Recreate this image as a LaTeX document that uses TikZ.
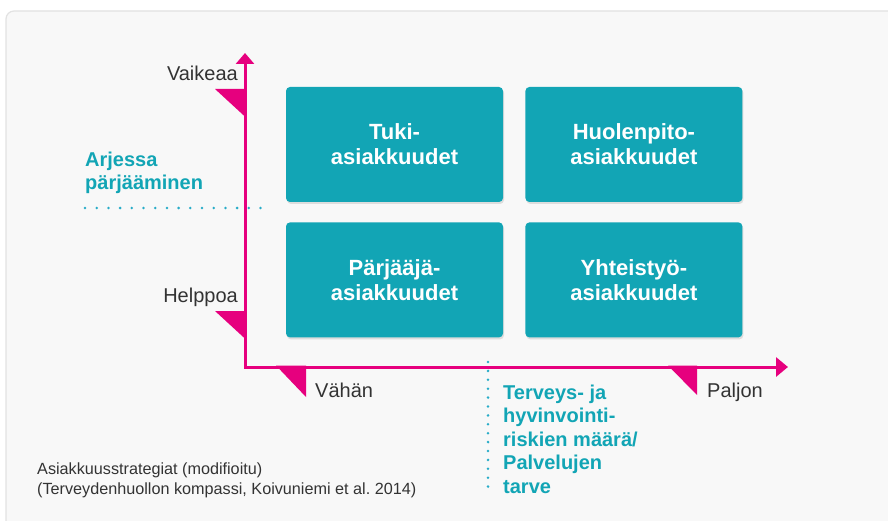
\documentclass[tikz,border=0pt]{standalone}
\usepackage{fontspec}
\setmainfont{Liberation Sans}
\usetikzlibrary{shadows,arrows.meta,positioning}
\definecolor{askteal}{RGB}{18, 165, 181}
\definecolor{askdots}{RGB}{40, 172, 200}
\definecolor{askmagenta}{RGB}{230, 0, 126}
\definecolor{askgray}{RGB}{51, 51, 51}
\definecolor{askpanel}{RGB}{248, 248, 248}
\definecolor{askframe}{RGB}{226, 226, 226}

\begin{document}
\begin{tikzpicture}[x=1pt, y=-1pt,
		% Node styles
		segment/.style={fill=askteal, text=white, rounded corners=4pt, inner sep=0pt,
				minimum width=217pt, minimum height=115pt, align=center,
				font=\fontsize{22}{25}\selectfont\bfseries,
				drop shadow={opacity=0.22, shadow xshift=1pt, shadow yshift=-2pt}},
		axis_label/.style={text=askgray, inner sep=0pt, font=\fontsize{20}{23}\selectfont},
		dim_label/.style={text=askteal, inner sep=0pt, align=left,
				font=\fontsize{20}{23.5}\selectfont\bfseries},
		caption/.style={text=askgray, inner sep=0pt, align=left,
				font=\fontsize{16.2}{19.5}\selectfont},
		axis_line/.style={draw=askmagenta, line width=3pt,
				{Triangle[length=11pt,width=18pt]}-{Triangle[length=12pt,width=19pt]}},
		flag/.style={fill=askmagenta},
		guide/.style={draw=askdots, line width=2.8pt, line cap=round, dash pattern=on 0pt off #1},
		panel/.style={draw=askframe, fill=askpanel, line width=1.2pt, rounded corners=8pt}
	]

	\useasboundingbox (0,0) rectangle (888,521);
	\clip (0,0) rectangle (888,521);
	\fill[white] (0,0) rectangle (888,521);

	% Panel
	\path[panel] (6,11) rectangle (910,545);

	% Segments
	\node[segment] (tuki) at (394.5,144.5) {Tuki-\\asiakkuudet};
	\node[segment, right=22pt of tuki] (huolenpito) {Huolenpito-\\asiakkuudet};
	\node[segment, below=20pt of tuki] (parjaaja) {Pärjääjä-\\asiakkuudet};
	\node[segment, below=20pt of huolenpito] (yhteistyo) {Yhteistyö-\\asiakkuudet};

	% Axes
	\coordinate (origin) at (245,367);
	\coordinate (y_top) at (245,53);
	\coordinate (x_end) at (788,367);
	\draw[axis_line] (y_top) -- (origin) -- (x_end);

	% Flags on the axes
	\fill[flag] (215,89) -- (246.5,89) -- (246.5,118) -- cycle;
	\fill[flag] (215,311) -- (246.5,311) -- (246.5,340) -- cycle;
	\fill[flag] (276,365.5) -- (306,365.5) -- (306,397) -- cycle;
	\fill[flag] (668,365.5) -- (697,365.5) -- (697,395) -- cycle;

	% Axis labels
	\node[axis_label, anchor=base east] (vaikeaa) at (238,81) {Vaikeaa};
	\node[axis_label, anchor=base east] (helppoa) at (238,302) {Helppoa};
	\node[axis_label, anchor=base west] (vahan) at (315,397) {Vähän};
	\node[axis_label, anchor=base west] (paljon) at (707,397) {Paljon};

	% Dimensions
	\node[dim_label, anchor=base west] (arjessa) at (85,190) {Arjessa\\pärjääminen};
	\coordinate (arjessa_start) at (85,208);
	\coordinate (arjessa_end) at (261,208);
	\draw[guide=11.7pt] (arjessa_start) -- (arjessa_end);

	\node[dim_label, anchor=base west] (tarve) at (503,493)
		{Terveys- ja\\hyvinvointi-\\riskien määrä/\\Palvelujen\\tarve};
	\coordinate (tarve_start) at (488,362);
	\coordinate (tarve_end) at (488,495);
	\draw[guide=8.9pt] (tarve_start) -- (tarve_end);

	% Source
	\node[caption, anchor=base west] (lahde) at (37,494)
		{Asiakkuusstrategiat (modifioitu)\\(Terveydenhuollon kompassi, Koivuniemi et al.\ 2014)};

\end{tikzpicture}
\end{document}
